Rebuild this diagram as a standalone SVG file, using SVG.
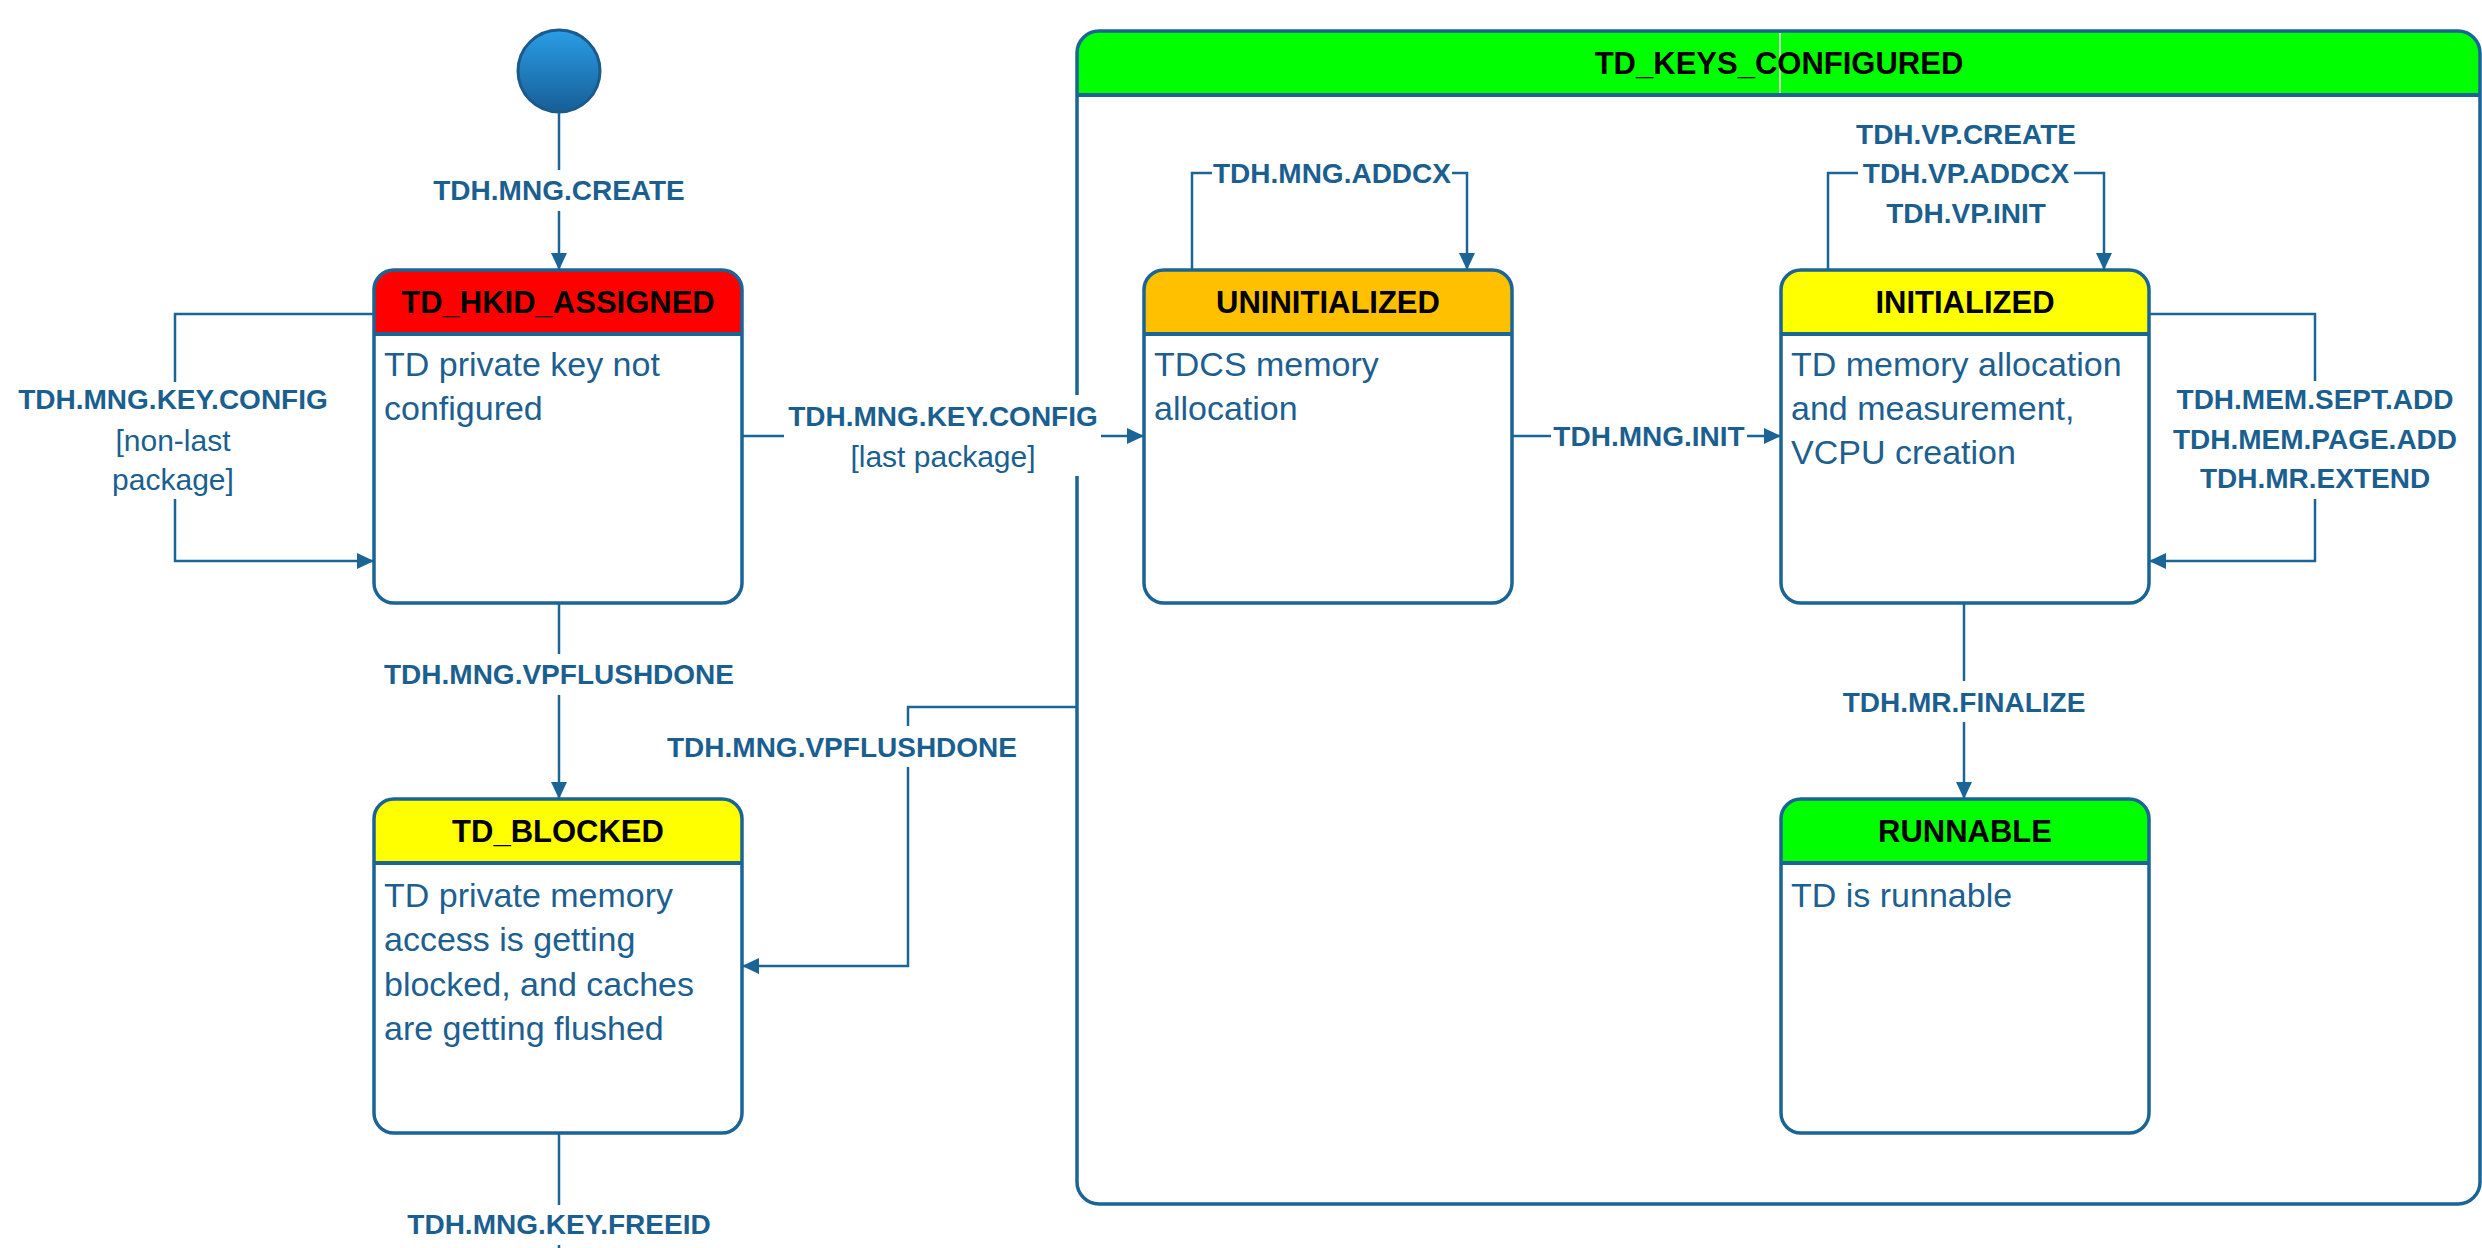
<svg xmlns="http://www.w3.org/2000/svg" width="2482" height="1248" viewBox="0 0 2482 1248">
<defs>
<linearGradient id="gInit" x1="0" y1="0" x2="0" y2="1">
<stop offset="0" stop-color="#2A9DE6"/>
<stop offset="1" stop-color="#175E96"/>
</linearGradient>
<marker id="arr" markerUnits="userSpaceOnUse" markerWidth="18" markerHeight="17" refX="17" refY="8" orient="auto">
<path d="M0,0 L17,8 L0,16 Z" fill="#1A6496"/>
</marker>
</defs>
<style>
.box{fill:none;stroke:#1A6496;stroke-width:3.5}
.body{fill:#fff}
.div{stroke:#1A6496;stroke-width:4}
.hdr{font-family:"Liberation Sans",Arial,sans-serif;font-weight:bold;font-size:31px;fill:#000;text-anchor:middle}
.txt{font-family:"Liberation Sans",Arial,sans-serif;font-size:34px;fill:#1D5F91}
.con{fill:none;stroke:#1A6496;stroke-width:2.5}
.arrow{marker-end:url(#arr)}
.lbl{font-family:"Liberation Sans",Arial,sans-serif;font-weight:bold;font-size:28px;fill:#1A5F8F;text-anchor:middle}
.grd{font-family:"Liberation Sans",Arial,sans-serif;font-size:30px;fill:#1A5F8F;text-anchor:middle}
.bg{fill:#fff}
</style>
<rect width="2482" height="1248" fill="#fff"/>

<g id="TD_KEYS_CONFIGURED">
<rect class="body" x="1077" y="31" width="1403" height="1173" rx="22"/>
<path d="M1077,95 V53 A22,22 0 0 1 1099,31 H2458 A22,22 0 0 1 2480,53 V95 Z" fill="#00FF00"/>
<line x1="1780" y1="33" x2="1780" y2="93" stroke="#fff" stroke-width="1.5"/>
<line class="div" x1="1077" y1="95" x2="2480" y2="95"/>
<rect class="box" x="1077" y="31" width="1403" height="1173" rx="22"/>
<text class="hdr" x="1779" y="74">TD_KEYS_CONFIGURED</text>
</g>

<g id="initial">
<circle cx="559" cy="71" r="41" fill="url(#gInit)" stroke="#1A5A8C" stroke-width="3"/>
</g>

<g id="TD_HKID_ASSIGNED">
<rect class="body" x="374" y="270" width="368" height="333" rx="20"/>
<path d="M374,334 V290 A20,20 0 0 1 394,270 H722 A20,20 0 0 1 742,290 V334 Z" fill="#FF0000"/>
<line class="div" x1="374" y1="334" x2="742" y2="334"/>
<rect class="box" x="374" y="270" width="368" height="333" rx="20"/>
<text class="hdr" x="558" y="313">TD_HKID_ASSIGNED</text>
<text class="txt" x="384" y="376">TD private key not</text>
<text class="txt" x="384" y="420">configured</text>
</g>

<g id="TD_BLOCKED">
<rect class="body" x="374" y="799" width="368" height="334" rx="20"/>
<path d="M374,863 V819 A20,20 0 0 1 394,799 H722 A20,20 0 0 1 742,819 V863 Z" fill="#FFFF00"/>
<line class="div" x1="374" y1="863" x2="742" y2="863"/>
<rect class="box" x="374" y="799" width="368" height="334" rx="20"/>
<text class="hdr" x="558" y="842">TD_BLOCKED</text>
<text class="txt" x="384" y="907">TD private memory</text>
<text class="txt" x="384" y="951">access is getting</text>
<text class="txt" x="384" y="996">blocked, and caches</text>
<text class="txt" x="384" y="1040">are getting flushed</text>
</g>

<g id="UNINITIALIZED">
<rect class="body" x="1144" y="270" width="368" height="333" rx="20"/>
<path d="M1144,334 V290 A20,20 0 0 1 1164,270 H1492 A20,20 0 0 1 1512,290 V334 Z" fill="#FFC000"/>
<line class="div" x1="1144" y1="334" x2="1512" y2="334"/>
<rect class="box" x="1144" y="270" width="368" height="333" rx="20"/>
<text class="hdr" x="1328" y="313">UNINITIALIZED</text>
<text class="txt" x="1154" y="376">TDCS memory</text>
<text class="txt" x="1154" y="420">allocation</text>
</g>

<g id="INITIALIZED">
<rect class="body" x="1781" y="270" width="368" height="333" rx="20"/>
<path d="M1781,334 V290 A20,20 0 0 1 1801,270 H2129 A20,20 0 0 1 2149,290 V334 Z" fill="#FFFF00"/>
<line class="div" x1="1781" y1="334" x2="2149" y2="334"/>
<rect class="box" x="1781" y="270" width="368" height="333" rx="20"/>
<text class="hdr" x="1965" y="313">INITIALIZED</text>
<text class="txt" x="1791" y="376">TD memory allocation</text>
<text class="txt" x="1791" y="420">and measurement,</text>
<text class="txt" x="1791" y="464">VCPU creation</text>
</g>

<g id="RUNNABLE">
<rect class="body" x="1781" y="799" width="368" height="334" rx="20"/>
<path d="M1781,863 V819 A20,20 0 0 1 1801,799 H2129 A20,20 0 0 1 2149,819 V863 Z" fill="#00FF00"/>
<line class="div" x1="1781" y1="863" x2="2149" y2="863"/>
<rect class="box" x="1781" y="799" width="368" height="334" rx="20"/>
<text class="hdr" x="1965" y="842">RUNNABLE</text>
<text class="txt" x="1791" y="907">TD is runnable</text>
</g>

<g id="connectors">
<path class="con arrow" d="M559,113 V270"/>
<path class="con arrow" d="M374,314 H175 V561 H374"/>
<path class="con arrow" d="M742,436 H1144"/>
<path class="con arrow" d="M559,603 V799"/>
<path class="con arrow" d="M1077,707 H908 V966 H742"/>
<path class="con" d="M559,1133 V1248"/>
<path class="con arrow" d="M1192,270 V173 H1467 V270"/>
<path class="con arrow" d="M1828,270 V173 H2104 V270"/>
<path class="con arrow" d="M2149,314 H2315 V561 H2149"/>
<path class="con arrow" d="M1512,436 H1781"/>
<path class="con arrow" d="M1964,603 V799"/>
</g>

<g id="labels">
<rect class="bg" x="430" y="170" width="258" height="41"/>
<text class="lbl" x="559" y="200">TDH.MNG.CREATE</text>

<rect class="bg" x="14" y="382" width="320" height="117"/>
<text class="lbl" x="173" y="409">TDH.MNG.KEY.CONFIG</text>
<text class="grd" x="173" y="451">[non-last</text>
<text class="grd" x="173" y="490">package]</text>

<rect class="bg" x="784" y="395" width="317" height="81"/>
<text class="lbl" x="943" y="426">TDH.MNG.KEY.CONFIG</text>
<text class="grd" x="943" y="467">[last package]</text>

<rect class="bg" x="380" y="654" width="358" height="41"/>
<text class="lbl" x="559" y="684">TDH.MNG.VPFLUSHDONE</text>

<rect class="bg" x="664" y="726" width="356" height="41"/>
<text class="lbl" x="842" y="757">TDH.MNG.VPFLUSHDONE</text>

<rect class="bg" x="390" y="1205" width="338" height="40"/>
<text class="lbl" x="559" y="1234">TDH.MNG.KEY.FREEID</text>

<rect class="bg" x="1212" y="153" width="240" height="41"/>
<text class="lbl" x="1332" y="183">TDH.MNG.ADDCX</text>

<rect class="bg" x="1858" y="114" width="216" height="119"/>
<text class="lbl" x="1966" y="144">TDH.VP.CREATE</text>
<text class="lbl" x="1966" y="183">TDH.VP.ADDCX</text>
<text class="lbl" x="1966" y="223">TDH.VP.INIT</text>

<rect class="bg" x="2160" y="381" width="310" height="118"/>
<text class="lbl" x="2315" y="409">TDH.MEM.SEPT.ADD</text>
<text class="lbl" x="2315" y="449">TDH.MEM.PAGE.ADD</text>
<text class="lbl" x="2315" y="488">TDH.MR.EXTEND</text>

<rect class="bg" x="1551" y="416" width="196" height="41"/>
<text class="lbl" x="1649" y="446">TDH.MNG.INIT</text>

<rect class="bg" x="1830" y="681" width="268" height="41"/>
<text class="lbl" x="1964" y="712">TDH.MR.FINALIZE</text>
</g>
</svg>
